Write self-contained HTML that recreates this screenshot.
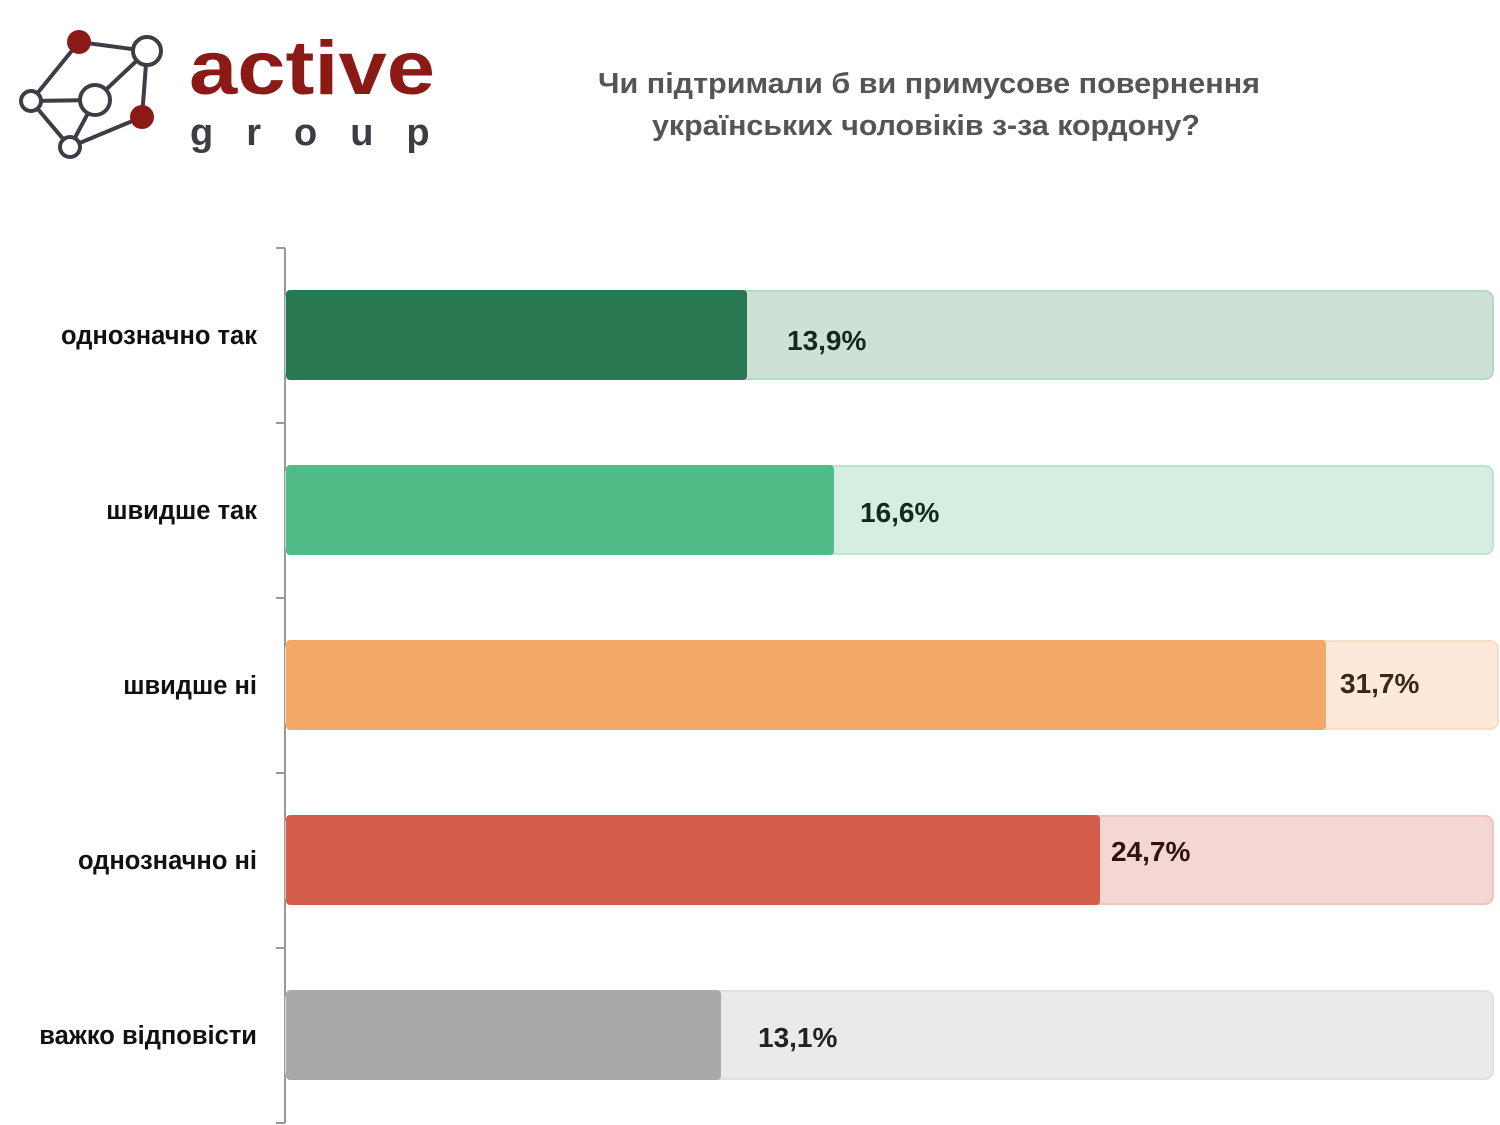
<!DOCTYPE html>
<html><head><meta charset="utf-8"><style>
html,body{margin:0;padding:0;background:#fff;}
svg{display:block;}
text{font-family:"Liberation Sans","DejaVu Sans",sans-serif;}
</style></head><body>
<svg width="1500" height="1125" viewBox="0 0 1500 1125" xmlns="http://www.w3.org/2000/svg">
<!-- logo -->
<g stroke="#3d3d45" stroke-width="4" fill="none">
<line x1="79" y1="42" x2="147" y2="51"/>
<line x1="79" y1="42" x2="31" y2="101"/>
<line x1="31" y1="101" x2="95" y2="100"/>
<line x1="95" y1="100" x2="147" y2="51"/>
<line x1="147" y1="51" x2="142" y2="117"/>
<line x1="31" y1="101" x2="70" y2="147"/>
<line x1="95" y1="100" x2="70" y2="147"/>
<line x1="70" y1="147" x2="142" y2="117"/>
<circle cx="147" cy="51" r="14" fill="#fff"/>
<circle cx="95" cy="100" r="15" fill="#fff"/>
<circle cx="31" cy="101" r="10" fill="#fff"/>
<circle cx="70" cy="147" r="10" fill="#fff"/>
</g>
<circle cx="79" cy="42" r="12" fill="#8b1a17"/>
<circle cx="142" cy="117" r="12" fill="#8b1a17"/>
<text x="189" y="94" font-size="76" font-weight="bold" fill="#8b1a17" textLength="246" lengthAdjust="spacingAndGlyphs">active</text>
<text x="190" y="145" font-size="38" font-weight="bold" fill="#3d3d45" letter-spacing="33">group</text>
<!-- title -->
<text x="598" y="93" font-size="29" font-weight="bold" fill="#555" textLength="662" lengthAdjust="spacingAndGlyphs">Чи підтримали б ви примусове повернення</text>
<text x="652" y="135" font-size="29" font-weight="bold" fill="#555" textLength="548" lengthAdjust="spacingAndGlyphs">українських чоловіків з-за кордону?</text>
<!-- axis -->
<g stroke="#999" stroke-width="2">
<line x1="285" y1="248" x2="285" y2="1123"/>
<line x1="276" y1="248" x2="285" y2="248"/>
<line x1="276" y1="423" x2="285" y2="423"/>
<line x1="276" y1="598" x2="285" y2="598"/>
<line x1="276" y1="773" x2="285" y2="773"/>
<line x1="276" y1="948" x2="285" y2="948"/>
<line x1="276" y1="1123" x2="285" y2="1123"/>
</g>
<!-- bars -->
<rect x="286" y="291" width="1207" height="88" rx="8" fill="#cfe0d7" stroke="#b5d9c4" stroke-width="2"/>
<rect x="286" y="290" width="461" height="90" rx="4" fill="#287852"/>
<text x="787" y="350" font-size="28" font-weight="bold" fill="#13291e">13,9%</text>

<rect x="286" y="466" width="1207" height="88" rx="8" fill="#d4eee1" stroke="#bde4cf" stroke-width="2"/>
<rect x="286" y="465" width="548" height="90" rx="4" fill="#50bc88"/>
<text x="860" y="522" font-size="28" font-weight="bold" fill="#13291e">16,6%</text>

<rect x="286" y="641" width="1212" height="88" rx="8" fill="#fce9da" stroke="#f9dcc4" stroke-width="2"/>
<rect x="286" y="640" width="1040" height="90" rx="4" fill="#f2a967"/>
<text x="1340" y="693" font-size="28" font-weight="bold" fill="#3a2816">31,7%</text>

<rect x="286" y="816" width="1207" height="88" rx="8" fill="#f4d6d2" stroke="#f0c3bd" stroke-width="2"/>
<rect x="286" y="815" width="814" height="90" rx="4" fill="#d35c4a"/>
<text x="1111" y="861" font-size="28" font-weight="bold" fill="#2e1411">24,7%</text>

<rect x="286" y="991" width="1207" height="88" rx="8" fill="#eaeaea" stroke="#e0e0e0" stroke-width="2"/>
<rect x="286" y="990" width="435" height="90" rx="4" fill="#a9a9a9"/>
<text x="758" y="1047" font-size="28" font-weight="bold" fill="#222">13,1%</text>
<!-- labels -->
<g font-size="25.5" font-weight="bold" fill="#111" text-anchor="end">
<text x="257" y="344">однозначно так</text>
<text x="257" y="519">швидше так</text>
<text x="257" y="694">швидше ні</text>
<text x="257" y="869">однозначно ні</text>
<text x="257" y="1044">важко відповісти</text>
</g>
</svg>
</body></html>
